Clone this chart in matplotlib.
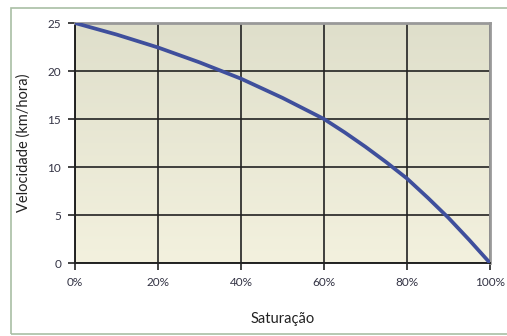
import numpy as np
import matplotlib.pyplot as plt
from matplotlib.patches import Rectangle
from matplotlib.colors import LinearSegmentedColormap

# dados
saturacao = [0, 10, 20, 30, 40, 50, 60, 65, 70, 75, 80, 85, 90, 95, 100]
velocidade = [25, 23.8, 22.45, 20.9, 19.2, 17.2, 15.0, 13.6, 12.1, 10.5, 8.8, 6.8, 4.7, 2.4, 0]
x_ticks = [0, 20, 40, 60, 80, 100]
x_labels = ['0%', '20%', '40%', '60%', '80%', '100%']
y_ticks = [0, 5, 10, 15, 20, 25]

plt.rcParams['font.family'] = ['Lato', 'DejaVu Sans']

fig = plt.figure(figsize=(5.07, 3.36), dpi=100)

# moldura externa
fig.patches.append(Rectangle((10.5 / 507, 2.5 / 336), 1.0, 326 / 336, transform=fig.transFigure,
                             fill=False, edgecolor='#a9bfa4', linewidth=1.2))

ax = fig.add_axes([75 / 507, 73 / 336, 415 / 507, 240 / 336])

# fundo em gradiente
grad = np.linspace(0, 1, 256).reshape(-1, 1)
cmap = LinearSegmentedColormap.from_list('bg', ['#f3f1de', '#dfdfcb'])
ax.imshow(grad, extent=[0, 100, 0, 25], aspect='auto', cmap=cmap, origin='lower', zorder=0)

ax.plot(saturacao, velocidade, color='#3f4f9c', linewidth=2.7, zorder=3, solid_capstyle='butt')

ax.set_xlim(0, 100)
ax.set_ylim(0, 25)
ax.set_xticks(x_ticks)
ax.set_xticklabels(x_labels)
ax.set_yticks(y_ticks)
ax.grid(True, color='#222222', linewidth=1.2)
for l in ax.get_xgridlines() + ax.get_ygridlines():
    l.set_zorder(2)

ax.tick_params(direction='out', length=5, width=1.2, color='#222222', labelsize=8.5,
               labelcolor='#333344', pad=5)
ax.spines['left'].set_color('#222222')
ax.spines['bottom'].set_color('#222222')
ax.spines['left'].set_linewidth(1.4)
ax.spines['bottom'].set_linewidth(1.4)
ax.spines['top'].set_color('#999999')
ax.spines['right'].set_color('#999999')
ax.spines['top'].set_linewidth(2)
ax.spines['right'].set_linewidth(2)

ax.set_xlabel('Saturação', fontsize=10.5, color='#222222', labelpad=17)
ax.set_ylabel('Velocidade (km/hora)', fontsize=10.5, color='#222222', labelpad=12)

fig.savefig('out.png', dpi=100)
